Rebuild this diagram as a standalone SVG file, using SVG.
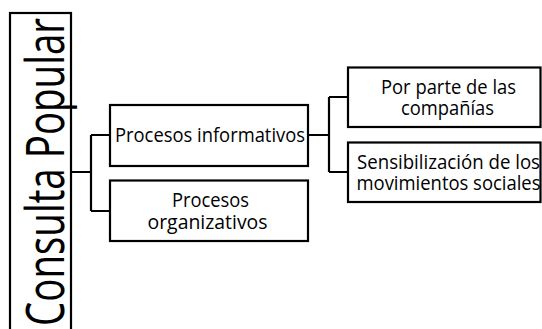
<svg xmlns="http://www.w3.org/2000/svg" width="542" height="329" viewBox="0 0 542 329">
  <style>
    .box { fill: #ffffff; stroke: #000000; stroke-width: 2.2; }
    .conn { fill: none; stroke: #000000; stroke-width: 2.2; }
    .lbl { font-family: "Open Sans", "Noto Sans", "Liberation Sans", sans-serif; font-size: 19.5px; fill: #000000; }
    .root { font-family: "Open Sans", "Noto Sans", "Liberation Sans", sans-serif; font-size: 53px; fill: #000000; }
  </style>
  <rect width="542" height="329" fill="#ffffff"/>
  <g id="connectors">
    <path class="conn" d="M71,172 H91 M91,135 V211 M91,135 H110 M91,211 H110"/>
    <path class="conn" d="M308,135 H329 M329,97 V172 M329,97 H348 M329,172 H348"/>
  </g>
  <g id="node-consulta-popular">
    <rect class="box" x="10" y="13" width="61" height="330"/>
    <text class="root" transform="translate(63.5,326) rotate(-90)" textLength="308" lengthAdjust="spacingAndGlyphs">Consulta Popular</text>
  </g>
  <g id="node-procesos-informativos">
    <rect class="box" x="110" y="105" width="198" height="61"/>
    <text class="lbl" x="115" y="142" textLength="190" lengthAdjust="spacingAndGlyphs">Procesos informativos</text>
  </g>
  <g id="node-procesos-organizativos">
    <rect class="box" x="110" y="180.5" width="198" height="60.5"/>
    <text class="lbl" x="172" y="206.5" textLength="77" lengthAdjust="spacingAndGlyphs">Procesos</text>
    <text class="lbl" x="147.5" y="229" textLength="120" lengthAdjust="spacingAndGlyphs">organizativos</text>
  </g>
  <g id="node-por-parte">
    <rect class="box" x="348" y="67.5" width="192.5" height="59.5"/>
    <text class="lbl" x="381" y="93.5" textLength="135" lengthAdjust="spacingAndGlyphs">Por parte de las</text>
    <text class="lbl" x="401" y="115" textLength="93" lengthAdjust="spacingAndGlyphs">compañías</text>
  </g>
  <g id="node-sensibilizacion">
    <rect class="box" x="348" y="142.5" width="192.5" height="59.5"/>
    <text class="lbl" x="357" y="168.5" textLength="183" lengthAdjust="spacingAndGlyphs">Sensibilización de los</text>
    <text class="lbl" x="356.5" y="190" textLength="184" lengthAdjust="spacingAndGlyphs">movimientos sociales</text>
  </g>
</svg>
